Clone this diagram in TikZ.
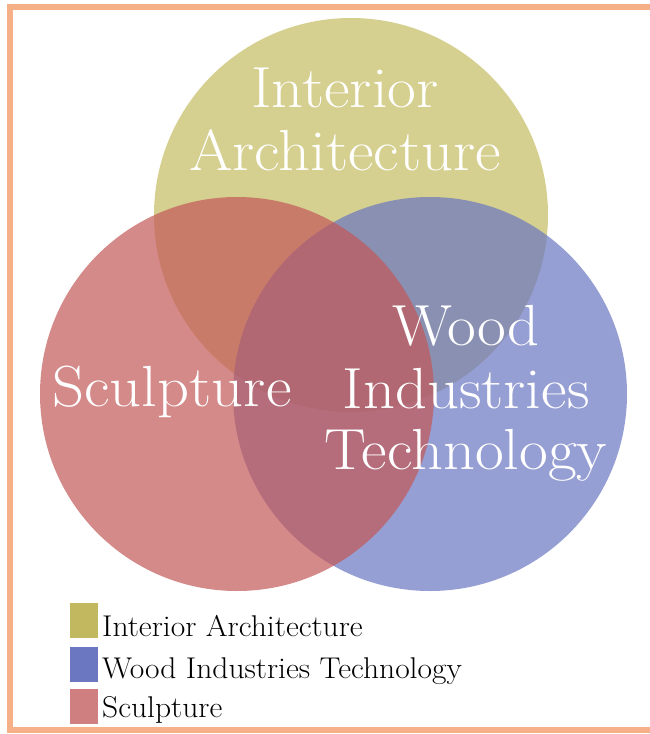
\documentclass[tikz,border=0pt]{standalone}
\usepackage{graphicx}
\definecolor{frameorange}{RGB}{245,176,136}
\definecolor{olivec}{RGB}{195,187,97}
\definecolor{bluec}{RGB}{106,118,192}
\definecolor{redc}{RGB}{195,88,88}
\definecolor{oliveleg}{RGB}{194,184,96}
\definecolor{blueleg}{RGB}{107,119,192}
\definecolor{redleg}{RGB}{207,127,128}
% slightly wider lettering
\newcommand{\widetxt}[2]{\scalebox{#1}[1]{#2}}
\begin{document}
\begin{tikzpicture}[x=1pt,y=-1pt,
  venn/.style={circle,inner sep=0pt,minimum size=394pt,fill opacity=0.7},
  bigtxt/.style={anchor=base,text=white,inner sep=0pt,font=\fontsize{58}{64}\selectfont},
  legbox/.style={inner sep=0pt,minimum width=28pt,minimum height=35pt,anchor=north west},
  legtxt/.style={anchor=base west,inner sep=0pt,text=black,font=\fontsize{30}{34}\selectfont}]
\useasboundingbox (0,0) rectangle (650,734);
% frame (its right side lies outside the page)
\draw[frameorange,line width=6pt] (10,6.8) rectangle (670,729.5);
% the three sets
\node[venn,fill=olivec] (ia) at (351,215) {};
\node[venn,fill=bluec]  (wit) at (430,394) {};
\node[venn,fill=redc]   (scu) at (237,394) {};
% set names
\node[bigtxt] (ia1) at (345,107) {\widetxt{1.08}{Interior}};
\node[bigtxt] (ia2) at (345,170) {\widetxt{1.08}{Architecture}};
\node[bigtxt] (scu1) at (172,406) {\widetxt{1.08}{Sculpture}};
\node[bigtxt] (wit1) at (466,345) {\widetxt{1.08}{Wood}};
\node[bigtxt] (wit2) at (466,408) {\widetxt{1.08}{Industries}};
\node[bigtxt] (wit3) at (466,469) {\widetxt{1.08}{Technology}};
% legend
\node[legbox,fill=oliveleg] (k1) at (70,603) {};
\node[legbox,fill=blueleg]  (k2) at (70,647) {};
\node[legbox,fill=redleg]   (k3) at (70,689) {};
\node[legtxt] (t1) at (102,636) {\widetxt{1.05}{Interior Architecture}};
\node[legtxt] (t2) at (102,678) {\widetxt{1.05}{Wood Industries Technology}};
\node[legtxt] (t3) at (102,717) {\widetxt{1.05}{Sculpture}};
\end{tikzpicture}
\end{document}
